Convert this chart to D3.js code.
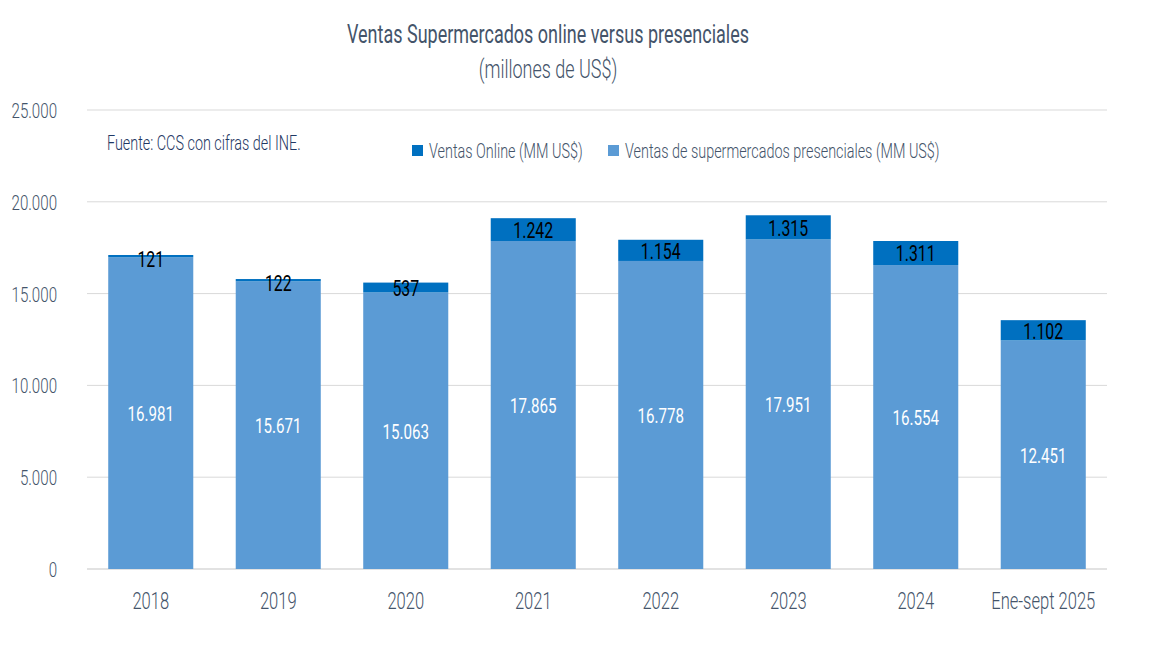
<!DOCTYPE html>
<html>
<head>
<meta charset="utf-8">
<script src="https://cdn.jsdelivr.net/npm/d3@7"></script>
<style>
  body { margin: 0; background: #fff; }
  text { font-family: Roboto, "DejaVu Sans Condensed", sans-serif; font-weight: 300; }
</style>
</head>
<body>
<script>
const years = ['2018', '2019', '2020', '2021', '2022', '2023', '2024', 'Ene-sept 2025'];
const presencial = [16981, 15671, 15063, 17865, 16778, 17951, 16554, 12451];
const online = [121, 122, 537, 1242, 1154, 1315, 1311, 1102];
const yTicks = [0, 5000, 10000, 15000, 20000, 25000];

const width = 1160, height = 658;
const plotLeft = 87, plotRight = 1107, plotTop = 110, plotBottom = 569;
const textColor = '#44546A';
const colOnline = '#0070C0', colPres = '#5B9BD5';
const squeeze = 0.72;
const fmt = d3.formatLocale({ decimal: ',', thousands: '.', grouping: [3], currency: ['', ''] }).format(',d');

// narrow the glyphs horizontally, keeping the anchor point in place
function condense(sel) {
  sel.each(function() {
    const t = d3.select(this);
    const x0 = +t.attr('x') || 0;
    t.attr('transform', 'translate(' + x0 + ',0) scale(' + squeeze + ',1) translate(' + (-x0) + ',0)');
  });
}

const svg = d3.select('body').append('svg')
  .attr('width', width)
  .attr('height', height);

const x = d3.scaleBand()
  .domain(years)
  .range([plotLeft, plotRight])
  .paddingInner(0.333)
  .paddingOuter(0.1665);

const y = d3.scaleLinear()
  .domain([0, 25000])
  .range([plotBottom, plotTop]);

// grid
svg.append('g')
  .selectAll('line')
  .data(yTicks)
  .enter()
  .append('line')
  .attr('x1', plotLeft)
  .attr('x2', plotRight)
  .attr('y1', (d) => y(d))
  .attr('y2', (d) => y(d))
  .attr('stroke', '#d9d9d9')
  .attr('stroke-width', (d) => d === 0 ? 1.5 : 1);

const yAxis = d3.axisLeft(y).tickValues(yTicks).tickFormat(fmt).tickSize(0).tickPadding(30);
const ya = svg.append('g').attr('transform', 'translate(' + plotLeft + ',0)').call(yAxis);
ya.select('.domain').remove();
ya.selectAll('text').attr('fill', textColor).style('font-size', '21px').attr('dy', '0.36em').call(condense);

const xAxis = d3.axisBottom(x).tickSize(0).tickPadding(24);
const xa = svg.append('g').attr('transform', 'translate(0,' + plotBottom + ')').call(xAxis);
xa.select('.domain').remove();
xa.selectAll('text').attr('fill', textColor).style('font-size', '23px').call(condense);

// bars
const rows = years.map((d, i) => ({ year: d, p: presencial[i], o: online[i] }));

svg.append('g').selectAll('rect')
  .data(rows).enter().append('rect')
  .attr('x', (d) => x(d.year))
  .attr('width', x.bandwidth())
  .attr('y', (d) => y(d.p))
  .attr('height', (d) => y(0) - y(d.p))
  .attr('fill', colPres);

svg.append('g').selectAll('rect')
  .data(rows).enter().append('rect')
  .attr('x', (d) => x(d.year))
  .attr('width', x.bandwidth())
  .attr('y', (d) => y(d.p + d.o))
  .attr('height', (d) => y(d.p) - y(d.p + d.o))
  .attr('fill', colOnline);

svg.append('g').selectAll('text')
  .data(rows).enter().append('text')
  .attr('x', (d) => x(d.year) + x.bandwidth() / 2)
  .attr('y', (d) => y(d.p / 2))
  .attr('dy', '0.38em')
  .attr('text-anchor', 'middle')
  .attr('fill', '#fff')
  .style('font-size', '21px')
  .style('font-weight', 400)
  .text((d) => fmt(d.p))
  .call(condense);

svg.append('g').selectAll('text')
  .data(rows).enter().append('text')
  .attr('x', (d) => x(d.year) + x.bandwidth() / 2)
  .attr('y', (d) => Math.max(y(d.p + d.o / 2), y(d.p + d.o) + 4))
  .attr('dy', '0.38em')
  .attr('text-anchor', 'middle')
  .attr('fill', '#000')
  .style('font-size', '22px')
  .style('font-weight', 400)
  .text((d) => fmt(d.o))
  .call(condense);

// titles
svg.append('text')
  .attr('x', 548).attr('y', 43)
  .attr('text-anchor', 'middle')
  .attr('fill', textColor)
  .style('font-size', '25px')
  .style('font-weight', 400)
  .text('Ventas Supermercados online versus presenciales')
  .call(condense);

svg.append('text')
  .attr('x', 548).attr('y', 78)
  .attr('text-anchor', 'middle')
  .attr('fill', textColor)
  .style('font-size', '25px')
  .text('(millones de US$)')
  .call(condense);

svg.append('text')
  .attr('x', 107).attr('y', 150)
  .attr('fill', '#1F3864')
  .style('font-size', '20px')
  .text('Fuente: CCS con cifras del INE.')
  .call(condense);

// legend
const legendData = [[colOnline, 'Ventas Online (MM US$)', 412], [colPres, 'Ventas de supermercados presenciales (MM US$)', 608]];
const legend = svg.append('g');
legend.selectAll('rect')
  .data(legendData).enter().append('rect')
  .attr('x', (d) => d[2])
  .attr('y', 145)
  .attr('width', 11).attr('height', 11)
  .attr('fill', (d) => d[0]);
legend.selectAll('text')
  .data(legendData).enter().append('text')
  .attr('x', (d) => d[2] + 17)
  .attr('y', 158)
  .attr('fill', textColor)
  .style('font-size', '20px')
  .text((d) => d[1])
  .call(condense);
</script>
</body>
</html>
